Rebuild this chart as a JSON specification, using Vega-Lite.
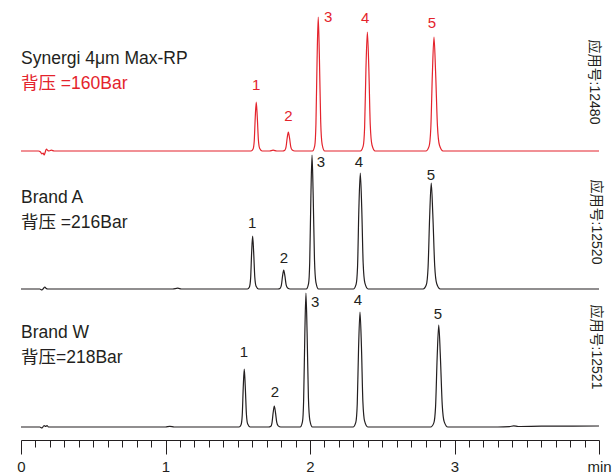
{
  "$schema": "https://vega.github.io/schema/vega-lite/v6.json",
  "padding": {"left": 16, "right": 3, "top": 0, "bottom": 0},
  "background": "white",
  "spacing": 0,
  "bounds": "flush",
  "config": {"view": {"stroke": null}, "font": "Liberation Sans, Noto Sans CJK SC"},
  "datasets": {
    "redTrace": [
      {"t": 0, "v": 0}, {"t": 0.12, "v": 0}, {"t": 0.135, "v": -1}, {"t": 0.145, "v": -3}, {"t": 0.153, "v": -2}, {"t": 0.16, "v": -4}, {"t": 0.168, "v": -1}, {"t": 0.176, "v": 2}, {"t": 0.185, "v": 0.5}, {"t": 0.195, "v": 0}, {"t": 0.21, "v": 0.8}, {"t": 0.23, "v": 0}, {"t": 1.0, "v": 0}, {"t": 1.5, "v": 0},
      {"t": 1.592, "v": 0}, {"t": 1.606, "v": 2.0}, {"t": 1.614, "v": 9.8}, {"t": 1.621, "v": 33.3}, {"t": 1.628, "v": 49}, {"t": 1.635, "v": 34.3}, {"t": 1.643, "v": 10.8}, {"t": 1.652, "v": 2.5}, {"t": 1.669, "v": 0},
      {"t": 1.72, "v": 0}, {"t": 1.745, "v": 0.8}, {"t": 1.77, "v": 0},
      {"t": 1.810, "v": 0}, {"t": 1.826, "v": 0.8}, {"t": 1.834, "v": 3.8}, {"t": 1.842, "v": 12.9}, {"t": 1.850, "v": 19}, {"t": 1.858, "v": 13.3}, {"t": 1.867, "v": 4.2}, {"t": 1.877, "v": 1.0}, {"t": 1.895, "v": 0},
      {"t": 2.017, "v": 0}, {"t": 2.033, "v": 5.4}, {"t": 2.041, "v": 26.8}, {"t": 2.049, "v": 91.1}, {"t": 2.057, "v": 134}, {"t": 2.065, "v": 93.8}, {"t": 2.074, "v": 29.5}, {"t": 2.084, "v": 6.7}, {"t": 2.102, "v": 0},
      {"t": 2.349, "v": 0}, {"t": 2.368, "v": 4.8}, {"t": 2.378, "v": 23.8}, {"t": 2.387, "v": 80.9}, {"t": 2.397, "v": 119}, {"t": 2.407, "v": 83.3}, {"t": 2.417, "v": 26.2}, {"t": 2.429, "v": 6.0}, {"t": 2.451, "v": 0},
      {"t": 2.802, "v": 0}, {"t": 2.824, "v": 4.6}, {"t": 2.836, "v": 22.8}, {"t": 2.847, "v": 77.5}, {"t": 2.858, "v": 114}, {"t": 2.869, "v": 79.8}, {"t": 2.882, "v": 25.1}, {"t": 2.896, "v": 5.7}, {"t": 2.921, "v": 0},
      {"t": 3.2, "v": 0}, {"t": 4.0, "v": 0}
    ],
    "aTrace": [
      {"t": 0, "v": 0}, {"t": 0.13, "v": 0}, {"t": 0.145, "v": -1}, {"t": 0.155, "v": 0.5}, {"t": 0.165, "v": 2}, {"t": 0.175, "v": 0.5}, {"t": 0.185, "v": 0}, {"t": 1.05, "v": 0}, {"t": 1.085, "v": 0.8}, {"t": 1.11, "v": 0}, {"t": 1.5, "v": 0},
      {"t": 1.567, "v": 0}, {"t": 1.581, "v": 2.1}, {"t": 1.589, "v": 10.6}, {"t": 1.596, "v": 36.0}, {"t": 1.603, "v": 53}, {"t": 1.610, "v": 37.1}, {"t": 1.618, "v": 11.7}, {"t": 1.627, "v": 2.7}, {"t": 1.644, "v": 0},
      {"t": 1.778, "v": 0}, {"t": 1.794, "v": 0.8}, {"t": 1.802, "v": 3.8}, {"t": 1.810, "v": 12.9}, {"t": 1.818, "v": 19}, {"t": 1.826, "v": 13.3}, {"t": 1.835, "v": 4.2}, {"t": 1.845, "v": 1.0}, {"t": 1.863, "v": 0},
      {"t": 1.974, "v": 0}, {"t": 1.990, "v": 5.4}, {"t": 1.998, "v": 26.8}, {"t": 2.006, "v": 91.1}, {"t": 2.014, "v": 134}, {"t": 2.022, "v": 93.8}, {"t": 2.031, "v": 29.5}, {"t": 2.041, "v": 6.7}, {"t": 2.059, "v": 0},
      {"t": 2.300, "v": 0}, {"t": 2.319, "v": 4.6}, {"t": 2.329, "v": 22.0}, {"t": 2.338, "v": 78.9}, {"t": 2.348, "v": 116}, {"t": 2.358, "v": 81.2}, {"t": 2.368, "v": 25.5}, {"t": 2.380, "v": 5.8}, {"t": 2.402, "v": 0},
      {"t": 2.783, "v": 0}, {"t": 2.805, "v": 4.2}, {"t": 2.817, "v": 21.2}, {"t": 2.828, "v": 72.1}, {"t": 2.839, "v": 106}, {"t": 2.850, "v": 74.2}, {"t": 2.863, "v": 23.3}, {"t": 2.877, "v": 5.3}, {"t": 2.902, "v": 0},
      {"t": 3.3, "v": 0}, {"t": 4.0, "v": 0}
    ],
    "wTrace": [
      {"t": 0, "v": 0}, {"t": 0.13, "v": 0}, {"t": 0.145, "v": -1}, {"t": 0.16, "v": 1.5}, {"t": 0.17, "v": 0.5}, {"t": 0.18, "v": 1.5}, {"t": 0.19, "v": 0}, {"t": 1.0, "v": 0}, {"t": 1.03, "v": 0.6}, {"t": 1.06, "v": 0}, {"t": 1.45, "v": 0},
      {"t": 1.509, "v": 0}, {"t": 1.523, "v": 2.3}, {"t": 1.531, "v": 11.6}, {"t": 1.538, "v": 39.4}, {"t": 1.545, "v": 58}, {"t": 1.552, "v": 40.6}, {"t": 1.560, "v": 12.8}, {"t": 1.569, "v": 2.9}, {"t": 1.586, "v": 0},
      {"t": 1.713, "v": 0}, {"t": 1.729, "v": 0.8}, {"t": 1.737, "v": 4.2}, {"t": 1.745, "v": 14.3}, {"t": 1.753, "v": 21}, {"t": 1.761, "v": 14.7}, {"t": 1.770, "v": 4.6}, {"t": 1.780, "v": 1.1}, {"t": 1.798, "v": 0},
      {"t": 1.932, "v": 0}, {"t": 1.948, "v": 5.4}, {"t": 1.956, "v": 26.8}, {"t": 1.964, "v": 91.1}, {"t": 1.972, "v": 134}, {"t": 1.980, "v": 93.8}, {"t": 1.989, "v": 29.5}, {"t": 1.999, "v": 6.7}, {"t": 2.017, "v": 0},
      {"t": 2.298, "v": 0}, {"t": 2.317, "v": 4.6}, {"t": 2.327, "v": 23.0}, {"t": 2.336, "v": 78.2}, {"t": 2.346, "v": 115}, {"t": 2.356, "v": 80.5}, {"t": 2.366, "v": 25.3}, {"t": 2.378, "v": 5.8}, {"t": 2.400, "v": 0},
      {"t": 2.835, "v": 0}, {"t": 2.857, "v": 4.1}, {"t": 2.869, "v": 20.4}, {"t": 2.880, "v": 69.4}, {"t": 2.891, "v": 102}, {"t": 2.902, "v": 71.4}, {"t": 2.915, "v": 22.4}, {"t": 2.929, "v": 5.1}, {"t": 2.954, "v": 0},
      {"t": 3.3, "v": 0}, {"t": 3.38, "v": 0.3}, {"t": 3.41, "v": 1.2}, {"t": 3.44, "v": 0.5}, {"t": 3.6, "v": 0.8}, {"t": 4.0, "v": 1}
    ],
    "redText": [
      {"kind": "num", "label": "1", "t": 1.628, "v": 66},
      {"kind": "num", "label": "2", "t": 1.850, "v": 35},
      {"kind": "num", "label": "3", "t": 2.125, "v": 134},
      {"kind": "num", "label": "4", "t": 2.381, "v": 133},
      {"kind": "num", "label": "5", "t": 2.844, "v": 128},
      {"kind": "name", "label": "Synergi 4μm Max-RP", "t": 0, "v": 92},
      {"kind": "bar", "label": "背压 =160Bar", "t": 0, "v": 67},
      {"kind": "app", "label": "应用号:12480", "t": 3.965, "v": 69}
    ],
    "aText": [
      {"kind": "num", "label": "1", "t": 1.600, "v": 66},
      {"kind": "num", "label": "2", "t": 1.820, "v": 31},
      {"kind": "num", "label": "3", "t": 2.076, "v": 127},
      {"kind": "num", "label": "4", "t": 2.339, "v": 127},
      {"kind": "num", "label": "5", "t": 2.837, "v": 114},
      {"kind": "name", "label": "Brand A", "t": 0, "v": 91},
      {"kind": "bar", "label": "背压 =216Bar", "t": 0, "v": 66},
      {"kind": "app", "label": "应用号:12520", "t": 3.979, "v": 67}
    ],
    "wText": [
      {"kind": "num", "label": "1", "t": 1.543, "v": 75},
      {"kind": "num", "label": "2", "t": 1.758, "v": 35},
      {"kind": "num", "label": "3", "t": 2.035, "v": 125},
      {"kind": "num", "label": "4", "t": 2.332, "v": 127},
      {"kind": "num", "label": "5", "t": 2.886, "v": 113},
      {"kind": "name", "label": "Brand W", "t": 0, "v": 94},
      {"kind": "bar", "label": "背压=218Bar", "t": 0, "v": 69},
      {"kind": "app", "label": "应用号:12521", "t": 3.979, "v": 80}
    ]
  },
  "vconcat": [
    {
      "width": 578, "height": 155,
      "encoding": {
        "x": {"field": "t", "type": "quantitative", "scale": {"domain": [0, 4], "nice": false, "zero": false}, "axis": null},
        "y": {"field": "v", "type": "quantitative", "scale": {"domain": [-4, 151], "nice": false, "zero": false}, "axis": null}
      },
      "layer": [
        {"data": {"name": "redTrace"}, "mark": {"type": "line", "interpolate": "monotone", "color": "#e4232c", "strokeWidth": 1.2, "clip": false}},
        {"data": {"name": "redText"}, "transform": [{"filter": "datum.kind === 'num'"}], "mark": {"type": "text", "fontSize": 15, "color": "#e4232c", "baseline": "middle", "align": "center"}, "encoding": {"text": {"field": "label"}}},
        {"data": {"name": "redText"}, "transform": [{"filter": "datum.kind === 'name'"}], "mark": {"type": "text", "fontSize": 17.5, "color": "#231f20", "baseline": "middle", "align": "left"}, "encoding": {"text": {"field": "label"}}},
        {"data": {"name": "redText"}, "transform": [{"filter": "datum.kind === 'bar'"}], "mark": {"type": "text", "fontSize": 17.5, "color": "#e4232c", "baseline": "middle", "align": "left"}, "encoding": {"text": {"field": "label"}}},
        {"data": {"name": "redText"}, "transform": [{"filter": "datum.kind === 'app'"}], "mark": {"type": "text", "fontSize": 14, "color": "#231f20", "baseline": "middle", "align": "center", "angle": 90}, "encoding": {"text": {"field": "label"}}}
      ]
    },
    {
      "width": 578, "height": 138,
      "encoding": {
        "x": {"field": "t", "type": "quantitative", "scale": {"domain": [0, 4], "nice": false, "zero": false}, "axis": null},
        "y": {"field": "v", "type": "quantitative", "scale": {"domain": [-4, 134], "nice": false, "zero": false}, "axis": null}
      },
      "layer": [
        {"data": {"name": "aTrace"}, "mark": {"type": "line", "interpolate": "monotone", "color": "#231f20", "strokeWidth": 1.2, "clip": false}},
        {"data": {"name": "aText"}, "transform": [{"filter": "datum.kind === 'num'"}], "mark": {"type": "text", "fontSize": 15, "color": "#231f20", "baseline": "middle", "align": "center"}, "encoding": {"text": {"field": "label"}}},
        {"data": {"name": "aText"}, "transform": [{"filter": "datum.kind === 'name' || datum.kind === 'bar'"}], "mark": {"type": "text", "fontSize": 17.5, "color": "#231f20", "baseline": "middle", "align": "left"}, "encoding": {"text": {"field": "label"}}},
        {"data": {"name": "aText"}, "transform": [{"filter": "datum.kind === 'app'"}], "mark": {"type": "text", "fontSize": 14, "color": "#231f20", "baseline": "middle", "align": "center", "angle": 90}, "encoding": {"text": {"field": "label"}}}
      ]
    },
    {
      "width": 578, "height": 147,
      "encoding": {
        "x": {"field": "t", "type": "quantitative", "scale": {"domain": [0, 4], "nice": false, "zero": false},
          "axis": {
            "title": null, "grid": false, "domain": true, "domainColor": "#231f20", "domainWidth": 1,
            "ticks": true, "tickColor": "#231f20", "tickWidth": 1,
            "tickSize": {"condition": {"test": "abs(datum.value - round(datum.value)) < 0.001", "value": 14}, "value": 7},
            "values": [0, 0.1, 0.2, 0.3, 0.4, 0.5, 0.6, 0.7, 0.8, 0.9, 1, 1.1, 1.2, 1.3, 1.4, 1.5, 1.6, 1.7, 1.8, 1.9, 2, 2.1, 2.2, 2.3, 2.4, 2.5, 2.6, 2.7, 2.8, 2.9, 3, 3.1, 3.2, 3.3, 3.4, 3.5, 3.6, 3.7, 3.8, 3.9, 4],
            "labelExpr": "datum.value > 3.99 ? 'min' : (abs(datum.value - round(datum.value)) < 0.001 ? format(datum.value, 'd') : '')",
            "labelOverlap": false, "labelFlush": false, "labelBound": false,
            "labelFont": "Liberation Sans", "labelFontSize": 15, "labelColor": "#231f20", "labelPadding": 5
          }},
        "y": {"field": "v", "type": "quantitative", "scale": {"domain": [-13, 134], "nice": false, "zero": false}, "axis": null}
      },
      "layer": [
        {"data": {"name": "wTrace"}, "mark": {"type": "line", "interpolate": "monotone", "color": "#231f20", "strokeWidth": 1.2, "clip": false}},
        {"data": {"name": "wText"}, "transform": [{"filter": "datum.kind === 'num'"}], "mark": {"type": "text", "fontSize": 15, "color": "#231f20", "baseline": "middle", "align": "center"}, "encoding": {"text": {"field": "label"}}},
        {"data": {"name": "wText"}, "transform": [{"filter": "datum.kind === 'name' || datum.kind === 'bar'"}], "mark": {"type": "text", "fontSize": 17.5, "color": "#231f20", "baseline": "middle", "align": "left"}, "encoding": {"text": {"field": "label"}}},
        {"data": {"name": "wText"}, "transform": [{"filter": "datum.kind === 'app'"}], "mark": {"type": "text", "fontSize": 14, "color": "#231f20", "baseline": "middle", "align": "center", "angle": 90}, "encoding": {"text": {"field": "label"}}}
      ]
    }
  ]
}
